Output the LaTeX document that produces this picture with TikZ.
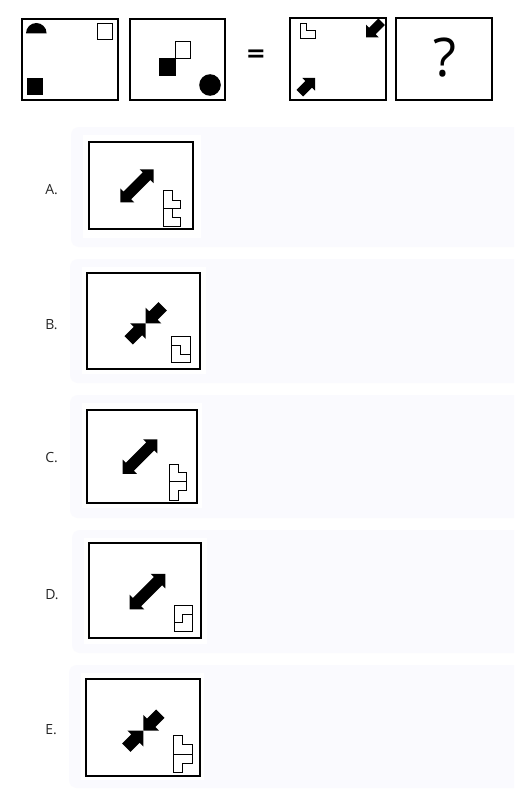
\documentclass[tikz,border=0pt]{standalone}
\usepackage{fontspec}
\setmainfont{Open Sans}
\newfontfamily\eqfont{DejaVu Sans}
\definecolor{cardbg}{RGB}{250,250,254}
\newcommand\oneArrow[5]{\fill[shift={#1},rotate=#2] (0,0) -- (-#3,#3) -- (-#3,#4) -- (-#5,#4) -- (-#5,-#4) -- (-#3,-#4) -- (-#3,-#3) -- cycle;}
\newcommand\dblArrow[5]{\fill[shift={#1},rotate=#2] (#5,0) -- (#5-#3,#3) -- (#5-#3,#4) -- (-#5+#3,#4) -- (-#5+#3,#3) -- (-#5,0) -- (-#5+#3,-#3) -- (-#5+#3,-#4) -- (#5-#3,-#4) -- (#5-#3,-#3) -- cycle;}
\begin{document}
\begin{tikzpicture}[x=0.75pt,y=-0.75pt,
  frame/.style={draw=black,line width=1.5pt,fill=white},
  thinshape/.style={draw=black,line width=0.75pt,fill=white},
  card/.style={fill=cardbg,rounded corners=6pt},
  panel/.style={fill=white},
  optlabel/.style={anchor=west,inner sep=0pt,font=\fontsize{10.5}{12}\selectfont,text=black!85}]
\useasboundingbox (0,0) rectangle (514,799);
\fill[white] (0,0) rectangle (514,799);
\begin{scope}
\clip (0,0) rectangle (514,799);
% cards
\fill[card] (71,127) rectangle (530,247);
\fill[card] (70,259) rectangle (530,383);
\fill[card] (70,395) rectangle (530,518);
\fill[card] (72,530) rectangle (530,653);
\fill[card] (69,665) rectangle (530,788);
\end{scope}
% panels
\fill[panel] (82.7,135) rectangle (201,238.3);
\fill[panel] (81.7,267.3) rectangle (205.7,374.3);
\fill[panel] (81.7,403.3) rectangle (202.3,508.3);
\fill[panel] (84,538.3) rectangle (207.3,644.3);
\fill[panel] (81,673.3) rectangle (204,780);

% ---------- top row ----------
\draw[frame] (21.5,19) rectangle (117.5,100);
\fill (26,33.3) arc[start angle=180,end angle=360,radius=10.3] -- cycle;
\draw[thinshape] (97.5,23.5) rectangle (112,40);
\fill (27,78) rectangle (43.3,95.3);

\draw[frame] (129.5,19) rectangle (225,100);
\draw[thinshape] (175.5,41.5) rectangle (190.5,58.5);
\fill (159.3,57.7) rectangle (175.7,76);
\fill (210,85) circle[radius=10.8];

\node[inner sep=0pt,font=\eqfont\bfseries\fontsize{18}{18}\selectfont] (eq) at (256,56) {=};

\draw[frame] (290,18) rectangle (386,100);
\draw[thinshape] (300,24) -- (306.7,24) -- (306.7,30.7) -- (315.3,30.7) -- (315.3,38.7) -- (300,38.7) -- cycle;
\oneArrow{(366,37.3)}{225}{9}{4.6}{22}
\oneArrow{(315,78)}{45}{9}{4.6}{21.5}

\draw[frame] (396,18) rectangle (492,99.5);
\node[inner sep=0pt,font=\fontsize{40}{40}\selectfont] (q) at (445,58) {?};

% ---------- option A ----------
\node[optlabel] (la) at (45,190) {A.};
\draw[frame] (89.3,141.7) rectangle (193.3,229);
\dblArrow{(137,185.8)}{45}{9.8}{5.4}{23.4}
\draw[thinshape] (163.3,190.7) -- (172.3,190.7) -- (172.3,200) -- (180.7,200) -- (180.7,208.3) -- (163.3,208.3) -- cycle;
\draw[thinshape] (163.3,208.3) -- (172.3,208.3) -- (172.3,217.3) -- (180.7,217.3) -- (180.7,226) -- (163.3,226) -- cycle;

% ---------- option B ----------
\node[optlabel] (lb) at (45,325) {B.};
\draw[frame] (87,272.7) rectangle (200,369);
\oneArrow{(145.7,323.3)}{225}{11}{6}{24}
\oneArrow{(145.7,323.3)}{45}{11}{6}{24}
\draw[thinshape] (171,336) rectangle (190,362.7);
\draw[line width=0.75pt] (171,345.7) -- (180.3,345.7) -- (180.3,354.3) -- (190,354.3);

% ---------- option C ----------
\node[optlabel] (lc) at (45,458) {C.};
\draw[frame] (87,410) rectangle (196.7,503);
\dblArrow{(140,456.6)}{45}{10}{5.6}{24.4}
\draw[thinshape] (169.3,464) -- (178.3,464) -- (178.3,472.7) -- (186.7,472.7) -- (186.7,481.7) -- (169.3,481.7) -- cycle;
\draw[thinshape] (169.3,481.7) -- (186.7,481.7) -- (186.7,490) -- (178.3,490) -- (178.3,500) -- (169.3,500) -- cycle;

% ---------- option D ----------
\node[optlabel] (ld) at (45,595) {D.};
\draw[frame] (89.3,543.3) rectangle (201.3,638);
\dblArrow{(147.5,591.6)}{45}{10.4}{5.8}{25.2}
\draw[thinshape] (174,605) rectangle (192.3,631.7);
\draw[line width=0.75pt] (192.3,614.3) -- (182.7,614.3) -- (182.7,622.7) -- (174,622.7);

% ---------- option E ----------
\node[optlabel] (le) at (45,730) {E.};
\draw[frame] (86,678.7) rectangle (200,775.7);
\oneArrow{(143.3,730.7)}{225}{11.2}{6}{24}
\oneArrow{(143.3,730.7)}{45}{11.2}{6}{24}
\draw[thinshape] (173.3,735) -- (182.3,735) -- (182.3,744.3) -- (192.3,744.3) -- (192.3,754) -- (173.3,754) -- cycle;
\draw[thinshape] (173.3,754) -- (192.3,754) -- (192.3,763.3) -- (182.3,763.3) -- (182.3,772.7) -- (173.3,772.7) -- cycle;
\end{tikzpicture}
\end{document}
